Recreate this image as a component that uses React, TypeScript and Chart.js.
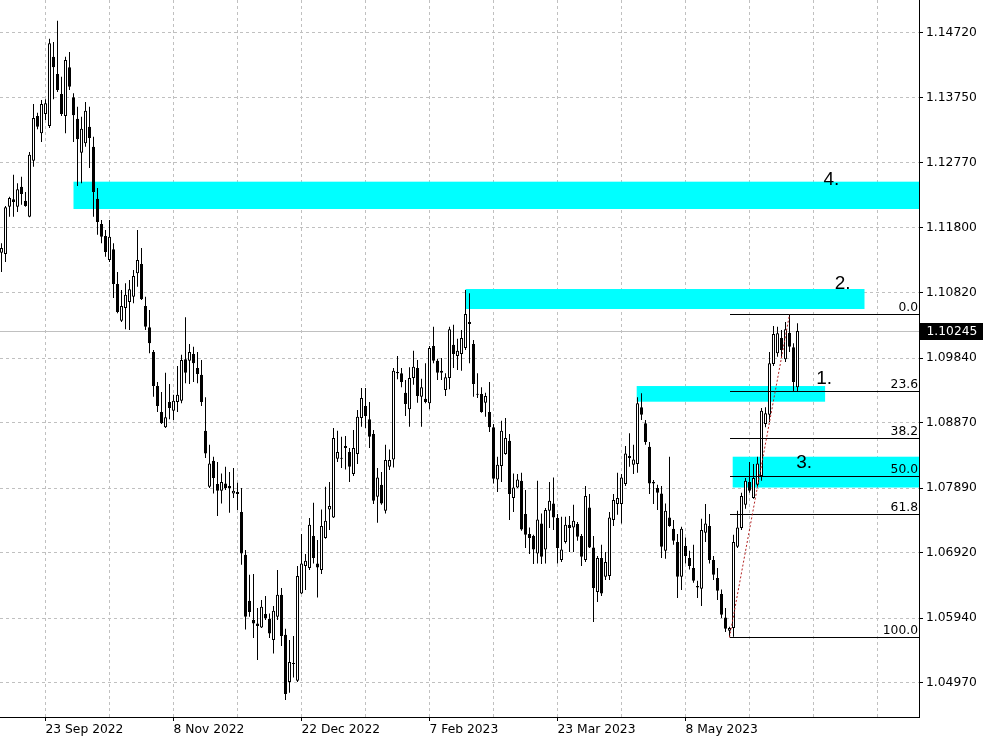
import React, { useEffect, useRef } from 'react';
import { Chart, registerables } from 'chart.js';

Chart.register(...registerables);

// ---- Candle data (daily OHLC) ----
const opens = [
  1.1142, 1.1140, 1.1211, 1.1222, 1.1211, 1.1241, 1.1220, 1.1196, 1.1280, 1.1347,
  1.1321, 1.1350, 1.1332, 1.1436, 1.1410, 1.1380, 1.1347, 1.1420, 1.1375, 1.1343,
  1.1292, 1.1306, 1.1331, 1.1301, 1.1223, 1.1185, 1.1167, 1.1131, 1.1147, 1.1095,
  1.1040, 1.1059, 1.1068, 1.1076, 1.1111, 1.1125, 1.1062, 1.1030, 1.0993, 1.0942,
  1.0903, 1.0880, 1.0918, 1.0905, 1.0918, 1.0920, 1.0982, 1.0980, 1.0990, 1.0969,
  1.0959, 1.0875, 1.0791, 1.0830, 1.0795, 1.0785, 1.0796, 1.0792, 1.0781, 1.0783,
  1.0753, 1.0689, 1.0620, 1.0591, 1.0586, 1.0580, 1.0600, 1.0593, 1.0561, 1.0596,
  1.0629, 1.0569, 1.0498, 1.0526, 1.0500, 1.0631, 1.0672, 1.0669, 1.0717, 1.0676,
  1.0666, 1.0714, 1.0757, 1.0745, 1.0833, 1.0834, 1.0849, 1.0843, 1.0810, 1.0840,
  1.0894, 1.0912, 1.0892, 1.0870, 1.0776, 1.0794, 1.0755, 1.0821, 1.0832, 1.0963,
  1.0961, 1.0932, 1.0907, 1.0954, 1.0969, 1.0926, 1.0923, 1.0916, 1.1002, 1.0980,
  1.0965, 1.0936, 1.0954, 1.1004, 1.0987, 1.0990, 1.0999, 1.1038, 1.1005, 1.0930,
  1.0930, 1.0917, 1.0903, 1.0880, 1.0802, 1.0822, 1.0840, 1.0860, 1.0774, 1.0790,
  1.0800, 1.0750, 1.0720, 1.0717, 1.0691, 1.0736, 1.0697, 1.0755, 1.0766, 1.0744,
  1.0681, 1.0708, 1.0734, 1.0730, 1.0735, 1.0717, 1.0681, 1.0760, 1.0700, 1.0633,
  1.0684, 1.0656, 1.0657, 1.0741, 1.0765, 1.0765, 1.0795, 1.0837, 1.0824, 1.0825,
  1.0910, 1.0886, 1.0851, 1.0798, 1.0789, 1.0781, 1.0695, 1.0745, 1.0728, 1.0708,
  1.0656, 1.0702, 1.0684, 1.0669, 1.0640, 1.0638, 1.0722, 1.0732, 1.0681, 1.0654,
  1.0630, 1.0595, 1.0575, 1.0579, 1.0701, 1.0729, 1.0764, 1.0798, 1.0774, 1.0794,
  1.0807, 1.0885, 1.0899, 1.0975, 1.0991, 1.1014, 1.0982, 1.1022, 1.1000, 1.0940,
];
const highs = [
  1.1156, 1.1212, 1.1226, 1.1259, 1.1246, 1.1256, 1.1233, 1.1293, 1.1365, 1.1352,
  1.1371, 1.1372, 1.1463, 1.1458, 1.1490, 1.1406, 1.1436, 1.1443, 1.1381, 1.1361,
  1.1346, 1.1368, 1.1361, 1.1316, 1.1239, 1.1191, 1.1176, 1.1191, 1.1156, 1.1113,
  1.1086, 1.1096, 1.1101, 1.1116, 1.1176, 1.1149, 1.1076, 1.1056, 1.0996, 1.0948,
  1.0933, 1.0962, 1.0945, 1.0929, 1.0972, 1.0989, 1.1045, 1.1005, 1.1001, 1.0993,
  1.0981, 1.0925, 1.0854, 1.0836, 1.0828, 1.0811, 1.0821, 1.0813, 1.0819, 1.0797,
  1.0789, 1.0696, 1.0659, 1.0660, 1.0609, 1.0621, 1.0627, 1.0601, 1.0612, 1.0666,
  1.0639, 1.0578, 1.0561, 1.0567, 1.0672, 1.0720, 1.0690, 1.0744, 1.0767, 1.0711,
  1.0757, 1.0791, 1.0798, 1.0879, 1.0875, 1.0866, 1.0867, 1.0849, 1.0876, 1.0906,
  1.0939, 1.0939, 1.0918, 1.0876, 1.0819, 1.0813, 1.0854, 1.0847, 1.0969, 1.0987,
  1.0969, 1.0951, 1.0970, 1.0995, 1.0981, 1.0953, 1.0976, 1.1002, 1.1031, 1.0983,
  1.0984, 1.0961, 1.1031, 1.1034, 1.1013, 1.1026, 1.1086, 1.1081, 1.1011, 1.0961,
  1.0940, 1.0932, 1.0948, 1.0885, 1.0836, 1.0890, 1.0894, 1.0870, 1.0811, 1.0810,
  1.0812, 1.0786, 1.0730, 1.0719, 1.0800, 1.0751, 1.0759, 1.0798, 1.0805, 1.0750,
  1.0746, 1.0746, 1.0747, 1.0764, 1.0738, 1.0720, 1.0792, 1.0780, 1.0717, 1.0687,
  1.0704, 1.0693, 1.0753, 1.0780, 1.0812, 1.0810, 1.0852, 1.0871, 1.0854, 1.0925,
  1.0931, 1.0891, 1.0858, 1.0801, 1.0794, 1.0792, 1.0766, 1.0836, 1.0741, 1.0720,
  1.0731, 1.0715, 1.0695, 1.0704, 1.0650, 1.0743, 1.0765, 1.0750, 1.0687, 1.0669,
  1.0637, 1.0609, 1.0581, 1.0719, 1.0755, 1.0782, 1.0804, 1.0828, 1.0825, 1.0836,
  1.0909, 1.0910, 1.0993, 1.1032, 1.1031, 1.1026, 1.1038, 1.10493, 1.1006, 1.1036,
];
const lows = [
  1.1113, 1.1128, 1.1196, 1.1196, 1.1203, 1.1214, 1.1211, 1.1195, 1.1271, 1.1327,
  1.1308, 1.1341, 1.1329, 1.1372, 1.1383, 1.1347, 1.1321, 1.1386, 1.1308, 1.1242,
  1.1246, 1.1301, 1.1269, 1.1196, 1.1169, 1.1156, 1.1136, 1.1128, 1.1074, 1.1051,
  1.1038, 1.1027, 1.1026, 1.1066, 1.1091, 1.1071, 1.1026, 1.0991, 1.0926, 1.0903,
  1.0885, 1.0879, 1.0892, 1.0891, 1.0903, 1.0916, 1.0946, 1.0945, 1.0948, 1.0946,
  1.0912, 1.0834, 1.0789, 1.0781, 1.0747, 1.0766, 1.0786, 1.0752, 1.0774, 1.0756,
  1.0674, 1.0577, 1.0596, 1.0564, 1.0531, 1.0579, 1.0591, 1.0564, 1.0541, 1.0591,
  1.0552, 1.0471, 1.0482, 1.0505, 1.0498, 1.0630, 1.0636, 1.0666, 1.0676, 1.0625,
  1.0660, 1.0713, 1.0726, 1.0744, 1.0828, 1.0819, 1.0817, 1.0798, 1.0807, 1.0825,
  1.0881, 1.0879, 1.0849, 1.0765, 1.0737, 1.0764, 1.0751, 1.0816, 1.0820, 1.0952,
  1.0940, 1.0897, 1.0881, 1.0944, 1.0917, 1.0881, 1.0916, 1.0907, 1.0976, 1.0951,
  1.0951, 1.0927, 1.0937, 1.0969, 1.0966, 1.0965, 1.0996, 1.0976, 1.0926, 1.0924,
  1.0902, 1.0896, 1.0873, 1.0796, 1.0783, 1.0798, 1.0839, 1.0741, 1.0753, 1.0789,
  1.0725, 1.0699, 1.0690, 1.0675, 1.0676, 1.0675, 1.0676, 1.0729, 1.0726, 1.0676,
  1.0678, 1.0706, 1.0693, 1.0693, 1.0710, 1.0672, 1.0678, 1.0699, 1.0588, 1.0618,
  1.0627, 1.0651, 1.0651, 1.0732, 1.0749, 1.0736, 1.0792, 1.0821, 1.0810, 1.0812,
  1.0891, 1.0854, 1.0780, 1.0765, 1.0756, 1.0684, 1.0683, 1.0731, 1.0704, 1.0624,
  1.0636, 1.0676, 1.0667, 1.0647, 1.0624, 1.0612, 1.0708, 1.0676, 1.0651, 1.0621,
  1.0594, 1.0573, 1.05651, 1.0566, 1.0699, 1.0726, 1.0758, 1.0782, 1.0773, 1.0792,
  1.0800, 1.0880, 1.0888, 1.0972, 1.0986, 1.0984, 1.0978, 1.0993, 1.0933, 1.0933,
];
const closes = [
  1.1149, 1.1210, 1.1224, 1.1218, 1.1237, 1.1230, 1.1212, 1.1289, 1.1344, 1.1331,
  1.1365, 1.1366, 1.1456, 1.1420, 1.1386, 1.1350, 1.1431, 1.1391, 1.1348, 1.1312,
  1.1328, 1.1355, 1.1314, 1.1233, 1.1188, 1.1166, 1.1143, 1.1166, 1.1095, 1.1053,
  1.1062, 1.1079, 1.1087, 1.1107, 1.1131, 1.1072, 1.1031, 1.1006, 1.0942, 1.0912,
  1.0886, 1.0895, 1.0909, 1.0920, 1.0929, 1.0981, 1.0962, 1.0993, 1.0976, 1.0960,
  1.0918, 1.0841, 1.0826, 1.0804, 1.0785, 1.0798, 1.0789, 1.0789, 1.0785, 1.0780,
  1.0691, 1.0596, 1.0603, 1.0586, 1.0582, 1.0611, 1.0594, 1.0571, 1.0605, 1.0629,
  1.0567, 1.0480, 1.0528, 1.0525, 1.0657, 1.0676, 1.0680, 1.0734, 1.0684, 1.0670,
  1.0732, 1.0740, 1.0762, 1.0864, 1.0843, 1.0833, 1.0852, 1.0821, 1.0849, 1.0896,
  1.0924, 1.0897, 1.0866, 1.0770, 1.0805, 1.0766, 1.0831, 1.0831, 1.0965, 1.0961,
  1.0948, 1.0915, 1.0954, 1.0971, 1.0927, 1.0940, 1.0918, 1.0999, 1.0980, 1.0962,
  1.0962, 1.0955, 1.1027, 1.0990, 1.0995, 1.1014, 1.1050, 1.1035, 1.0945, 1.0929,
  1.0903, 1.0927, 1.0880, 1.0803, 1.0824, 1.0875, 1.0864, 1.0780, 1.0790, 1.0802,
  1.0727, 1.0719, 1.0714, 1.0697, 1.0742, 1.0686, 1.0756, 1.0770, 1.0745, 1.0699,
  1.0697, 1.0734, 1.0729, 1.0740, 1.0716, 1.0686, 1.0777, 1.0700, 1.0639, 1.0684,
  1.0631, 1.0678, 1.0745, 1.0771, 1.0774, 1.0805, 1.0841, 1.0834, 1.0832, 1.0916,
  1.0899, 1.0858, 1.0796, 1.0796, 1.0782, 1.0701, 1.0755, 1.0732, 1.0710, 1.0656,
  1.0728, 1.0687, 1.0672, 1.0650, 1.0642, 1.0726, 1.0736, 1.0681, 1.0659, 1.0635,
  1.0599, 1.0578, 1.0579, 1.0708, 1.0730, 1.0777, 1.0800, 1.0785, 1.0804, 1.0826,
  1.0905, 1.0901, 1.0976, 1.1020, 1.1021, 1.0996, 1.1027, 1.1001, 1.0948, 1.10245,
];

// ---- Axis data ----
const dateTickBars = [11, 43, 75, 107, 139, 171];
const dateTickLabels = ['23 Sep 2022', '8 Nov 2022', '22 Dec 2022', '7 Feb 2023', '23 Mar 2023', '8 May 2023'];
const gridBars = [11, 27, 43, 59, 75, 91, 107, 123, 139, 155, 171, 187, 203, 219];
const priceTicks = [1.1472, 1.1375, 1.1277, 1.118, 1.1082, 1.0984, 1.0887, 1.0789, 1.0692, 1.0594, 1.0497];
const X_MIN = -0.375;
const X_MAX = 229.375;
const Y_MIN = 1.04456;
const Y_MAX = 1.1521;

// ---- Zones (support / resistance) ----
const zoneLabels = ['1.', '2.', '3.', '4.'];
const zoneTop = [1.0942, 1.10875, 1.0836, 1.12485];
const zoneBottom = [1.09185, 1.10575, 1.07898, 1.12075];
const zoneStart = [158.8, 116, 182.8, 18];
const zoneEnd = [205.9, 215.75, X_MAX, X_MAX];
const zoneTextBar = [203.7, 208.3, 198.7, 205.5];
const zoneTextPrice = [1.0945, 1.10871, 1.08185, 1.1243];

// ---- Fibonacci ----
const fibLevels = [0, 23.6, 38.2, 50, 61.8, 100];
const fibLowBar = 182;
const fibHighBar = 197;
const lastPrice = 1.10245;

const AXIS_FONT = '"DejaVu Sans", Verdana, sans-serif';

const overlayPlugin = {
  id: 'mtOverlay',
  beforeDatasetsDraw(chart: any) {
    const { ctx, chartArea: a, scales } = chart;
    const x = scales.x;
    const y = scales.y;
    ctx.save();
    ctx.beginPath();
    ctx.rect(a.left, a.top, a.right - a.left, a.bottom - a.top);
    ctx.clip();
    // last price line
    const py = Math.round(y.getPixelForValue(lastPrice)) + 0.5;
    ctx.strokeStyle = '#c0c0c0';
    ctx.lineWidth = 1;
    ctx.beginPath();
    ctx.moveTo(a.left, py);
    ctx.lineTo(a.right, py);
    ctx.stroke();
    // zones
    ctx.fillStyle = '#00ffff';
    for (let i = 0; i < zoneLabels.length; i++) {
      const x1 = x.getPixelForValue(zoneStart[i]);
      const x2 = x.getPixelForValue(zoneEnd[i]);
      const y1 = y.getPixelForValue(zoneTop[i]);
      const y2 = y.getPixelForValue(zoneBottom[i]);
      ctx.fillRect(x1, y1, x2 - x1, y2 - y1);
    }
    ctx.restore();
  },
  afterDatasetsDraw(chart: any) {
    const { ctx, chartArea: a, scales } = chart;
    const x = scales.x;
    const y = scales.y;
    ctx.save();
    ctx.beginPath();
    ctx.rect(a.left, a.top, a.right - a.left, a.bottom - a.top);
    ctx.clip();
    const hi = highs[fibHighBar];
    const lo = lows[fibLowBar];
    const fx = Math.round(x.getPixelForValue(fibLowBar));
    ctx.font = `12.3px ${AXIS_FONT}`;
    ctx.textAlign = 'right';
    ctx.textBaseline = 'alphabetic';
    for (const lv of fibLevels) {
      const p = hi - (hi - lo) * lv / 100;
      const py = Math.round(y.getPixelForValue(p)) + 0.5;
      ctx.strokeStyle = '#000000';
      ctx.lineWidth = 1;
      ctx.setLineDash([]);
      ctx.beginPath();
      ctx.moveTo(fx, py);
      ctx.lineTo(a.right, py);
      ctx.stroke();
      ctx.fillStyle = '#000000';
      ctx.fillText(lv.toFixed(1), a.right - 1, py - 3.5);
    }
    // trend (dotted) line
    ctx.strokeStyle = '#b22222';
    ctx.lineWidth = 1;
    ctx.setLineDash([2, 2]);
    ctx.beginPath();
    ctx.moveTo(x.getPixelForValue(fibLowBar), y.getPixelForValue(lo));
    ctx.lineTo(x.getPixelForValue(fibHighBar), y.getPixelForValue(hi));
    ctx.stroke();
    ctx.setLineDash([]);
    // zone labels
    ctx.font = '19px "Liberation Sans", Arial, sans-serif';
    ctx.textAlign = 'left';
    ctx.fillStyle = '#000000';
    for (let i = 0; i < zoneLabels.length; i++) {
      ctx.fillText(zoneLabels[i], x.getPixelForValue(zoneTextBar[i]), y.getPixelForValue(zoneTextPrice[i]));
    }
    ctx.restore();
  },
  afterDraw(chart: any) {
    const { ctx, chartArea: a, scales } = chart;
    const y = scales.y;
    const py = y.getPixelForValue(lastPrice);
    ctx.save();
    ctx.fillStyle = '#000000';
    ctx.fillRect(a.right + 1, Math.round(py - 8.5), 63, 17);
    ctx.fillStyle = '#ffffff';
    ctx.font = `12.3px ${AXIS_FONT}`;
    ctx.textAlign = 'left';
    ctx.textBaseline = 'middle';
    ctx.fillText(lastPrice.toFixed(5), a.right + 7.5, py + 0.5);
    ctx.restore();
  },
};

export default function App() {
  const canvasRef = useRef<HTMLCanvasElement | null>(null);

  useEffect(() => {
    if (!canvasRef.current) return;
    const idx = opens.map((_, i) => i);
    const bodies = idx.map((i) => ({ x: i, y: [Math.min(opens[i], closes[i]), Math.max(opens[i], closes[i])] }));
    const wicks = idx.map((i) => ({ x: i, y: [lows[i], highs[i]] }));
    const bodyColors = idx.map((i) => (closes[i] >= opens[i] ? '#ffffff' : '#000000'));

    const chart = new Chart(canvasRef.current, {
      type: 'bar',
      data: {
        datasets: [
          {
            label: 'body',
            data: bodies as any,
            backgroundColor: bodyColors,
            borderColor: '#000000',
            borderWidth: 1,
            borderSkipped: false,
            barThickness: 3,
            minBarLength: 1,
            grouped: false,
            inflateAmount: 0,
          } as any,
          {
            label: 'wick',
            data: wicks as any,
            backgroundColor: '#000000',
            borderWidth: 0,
            barThickness: 1,
            grouped: false,
            inflateAmount: 0,
          } as any,
        ],
      },
      options: {
        animation: false,
        responsive: false,
        devicePixelRatio: 1,
        layout: { padding: 0 },
        plugins: { legend: { display: false }, tooltip: { enabled: false }, title: { display: false } },
        scales: {
          x: {
            type: 'linear',
            min: X_MIN,
            max: X_MAX,
            offset: false,
            afterBuildTicks: (scale: any) => {
              scale.ticks = gridBars.map((v) => ({ value: v }));
            },
            afterFit: (scale: any) => {
              scale.height = 30;
              scale.paddingLeft = 0;
              scale.paddingRight = 0;
            },
            ticks: {
              autoSkip: false,
              maxRotation: 0,
              minRotation: 0,
              align: 'start',
              padding: 1,
              color: '#000000',
              font: { family: AXIS_FONT, size: 12.3 },
              callback: (v: any) => {
                const k = dateTickBars.indexOf(Number(v));
                return k >= 0 ? dateTickLabels[k] : '';
              },
            },
            grid: {
              offset: false,
              color: '#c0c0c0',
              lineWidth: 1,
              drawTicks: true,
              tickLength: 4,
              tickColor: (c: any) => (c.tick && dateTickBars.includes(c.tick.value) ? '#000000' : 'rgba(0,0,0,0)'),
            },
            border: { display: true, color: '#000000', width: 1, dash: [3, 3] },
          } as any,
          y: {
            type: 'linear',
            position: 'right',
            min: Y_MIN,
            max: Y_MAX,
            afterBuildTicks: (scale: any) => {
              scale.ticks = priceTicks.map((v) => ({ value: v }));
            },
            afterFit: (scale: any) => {
              scale.width = 69;
              scale.paddingTop = 0;
              scale.paddingBottom = 0;
            },
            ticks: {
              padding: 3,
              color: '#000000',
              font: { family: AXIS_FONT, size: 12.3 },
              callback: (v: any) => Number(v).toFixed(5),
            },
            grid: {
              color: '#c0c0c0',
              lineWidth: 1,
              drawTicks: true,
              tickLength: 4,
              tickColor: '#000000',
            },
            border: { display: true, color: '#000000', width: 1, dash: [3, 3] },
          } as any,
        },
      } as any,
      plugins: [overlayPlugin],
    });
    return () => chart.destroy();
  }, []);

  return (
    <div style={{ position: 'fixed', left: 0, top: 0, width: 988, height: 747, background: '#ffffff' }}>
      <canvas ref={canvasRef} width={988} height={747} style={{ display: 'block', width: 988, height: 747 }} />
    </div>
  );
}
